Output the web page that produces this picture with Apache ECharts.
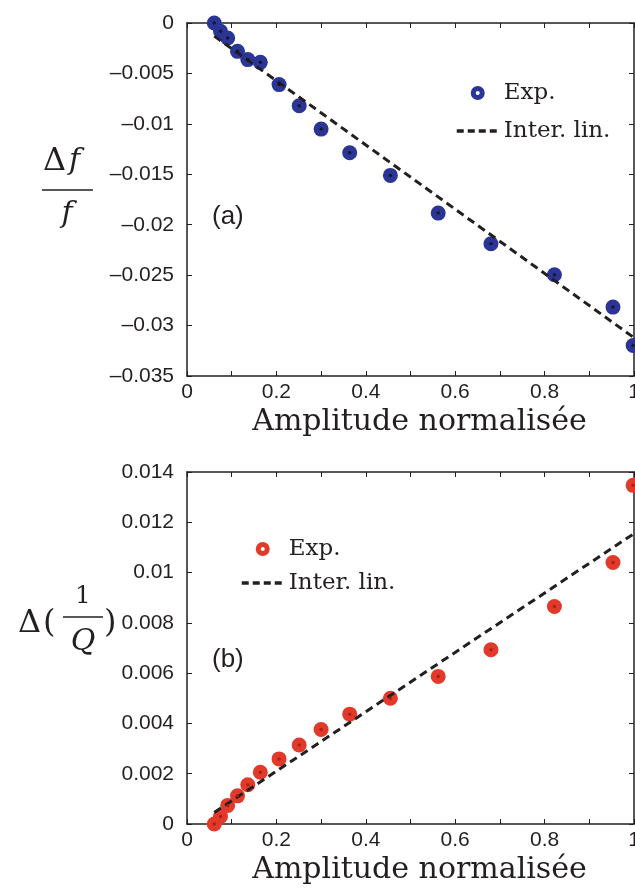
<!DOCTYPE html>
<html><head><meta charset="utf-8">
<script src="https://cdn.jsdelivr.net/npm/echarts@6/dist/echarts.min.js"></script>
<style>html,body{margin:0;padding:0;background:#fff}#c{width:635px;height:890px}</style>
</head><body><div id="c"></div>
<script>
// ---- data ----
const amplitude = [0.061, 0.075, 0.091, 0.113, 0.136, 0.164, 0.206, 0.251, 0.300, 0.364, 0.455, 0.562, 0.680, 0.822, 0.953, 0.998];
const deltaF = [0, -0.00082, -0.00149, -0.00281, -0.00363, -0.0039, -0.00611, -0.0082, -0.01052, -0.01286, -0.01511, -0.01885, -0.02189, -0.02496, -0.02817, -0.03197];
const deltaInvQ = [0, 0.0003, 0.00074, 0.00112, 0.00156, 0.00206, 0.00259, 0.00314, 0.00376, 0.00437, 0.005, 0.00587, 0.00693, 0.00865, 0.0104, 0.01347];
const fitAmplitude = [0.061, 1.0];
const fitDeltaF = [-0.0013, -0.0312];
const fitDeltaInvQ = [0.00046, 0.01155];
const xTickLabels = ['0', '0.2', '0.4', '0.6', '0.8', '1'];
const yTopTickLabels = ['0', '\u20130.005', '\u20130.01', '\u20130.015', '\u20130.02', '\u20130.025', '\u20130.03', '\u20130.035'];
const yBottomTickLabels = ['0', '0.002', '0.004', '0.006', '0.008', '0.01', '0.012', '0.014'];
const legendNames = ['Exp.', 'Inter. lin.'];
const xTitle = 'Amplitude normalis\u00e9e';

// ---- styling ----
const BLUE = '#2b3595', RED = '#e23a2a', INK = '#231f20';
const SANS = 'Liberation Sans', SERIF = 'DejaVu Serif';
const pairs = (xs, ys) => xs.map((x, i) => [x, ys[i]]);

function xAxes(g) {
  const base = {gridIndex: g, type: 'value', min: 0, max: 1, interval: 0.1,
    axisLine: {show: true, onZero: false, lineStyle: {color: INK, width: 1.5}},
    axisTick: {show: true, inside: true, length: 5, lineStyle: {color: INK, width: 1}},
    splitLine: {show: false}};
  return [
    Object.assign({}, base, {position: 'bottom',
      axisLabel: {margin: 6, color: INK, fontFamily: SANS, fontSize: 21, showMaxLabel: true,
        formatter: v => { const k = Math.round(v * 10); return k % 2 === 0 ? xTickLabels[k / 2] : ''; }},
      name: xTitle, nameLocation: 'middle', nameGap: 31,
      nameTextStyle: {fontFamily: SERIF, fontSize: 30, color: INK, padding: [0, 0, 0, 18]}}),
    Object.assign({}, base, {position: 'top', axisLabel: {show: false}})
  ];
}
function yAxes(g, min, max, step, labels) {
  const base = {gridIndex: g, type: 'value', min: min, max: max, interval: step,
    axisLine: {show: true, onZero: false, lineStyle: {color: INK, width: 1.5}},
    axisTick: {show: true, inside: true, length: 5, lineStyle: {color: INK, width: 1}},
    splitLine: {show: false}};
  return [
    Object.assign({}, base, {position: 'left',
      axisLabel: {margin: 13, color: INK, fontFamily: SANS, fontSize: 21,
        formatter: v => labels[Math.round(Math.abs(v) / step)]}}),
    Object.assign({}, base, {position: 'right', axisLabel: {show: false}})
  ];
}
function seriesFor(g, ys, fitYs, color, dotColor) {
  return [
    {type: 'scatter', name: legendNames[0], xAxisIndex: 2 * g, yAxisIndex: 2 * g,
      data: pairs(amplitude, ys), symbol: 'circle', symbolSize: 15, clip: false,
      itemStyle: {color: color, opacity: 1}, z: 2, animation: false},
    {type: 'line', name: legendNames[1], xAxisIndex: 2 * g, yAxisIndex: 2 * g,
      data: pairs(fitAmplitude, fitYs), symbol: 'none', showSymbol: false,
      lineStyle: {color: INK, width: 3, type: [8, 5]}, itemStyle: {color: INK},
      z: 3, animation: false},
    {type: 'scatter', name: 'centre' + g, xAxisIndex: 2 * g, yAxisIndex: 2 * g,
      data: pairs(amplitude, ys), symbol: 'circle', symbolSize: 3.5, silent: true, clip: false,
      itemStyle: {color: dotColor}, z: 4, animation: false}
  ];
}
function legendFor(left, top, gap, color) {
  return {show: true, orient: 'vertical', left: left, top: top, itemGap: gap,
    itemWidth: 42, itemHeight: 9, selectedMode: false, align: 'left',
    textStyle: {fontFamily: SERIF, fontSize: 23, color: INK, lineHeight: 24},
    data: [
      {name: legendNames[0], icon: 'circle', itemStyle: {color: '#fff', borderColor: color, borderWidth: 5}},
      {name: legendNames[1], itemStyle: {opacity: 0, color: 'rgba(0,0,0,0)', borderWidth: 0},
        lineStyle: {width: 3.5, type: [7, 4]}}
    ]};
}

const chart = echarts.init(document.getElementById('c'), null, {renderer: 'canvas'});
chart.setOption({
  backgroundColor: '#fff',
  animation: false,
  grid: [
    {left: 187, right: 1, top: 23, height: 353, containLabel: false, outerBoundsMode: 'none'},
    {left: 187, right: 1, top: 472, height: 352, containLabel: false, outerBoundsMode: 'none'}
  ],
  xAxis: [].concat(xAxes(0), xAxes(1)),
  yAxis: [].concat(yAxes(0, -0.035, 0, 0.005, yTopTickLabels), yAxes(1, 0, 0.014, 0.002, yBottomTickLabels)),
  legend: [legendFor(450, 76, 14, BLUE), legendFor(235, 532, 10, RED)],
  series: [].concat(seriesFor(0, deltaF, fitDeltaF, BLUE, '#111'), seriesFor(1, deltaInvQ, fitDeltaInvQ, RED, '#a01a10')),
  graphic: [
    {type: 'text', x: 212, y: 217, style: {text: '(a)', font: '26px "Liberation Sans"', fill: INK, textAlign: 'left', textVerticalAlign: 'middle'}},
    {type: 'text', x: 212, y: 660, style: {text: '(b)', font: '26px "Liberation Sans"', fill: INK, textAlign: 'left', textVerticalAlign: 'middle'}},
    // Δf / f
    {type: 'text', x: 43, y: 162, style: {text: '\u0394', font: '32px "DejaVu Serif"', fill: INK, textAlign: 'left', textVerticalAlign: 'middle'}},
    {type: 'text', x: 69, y: 161, style: {text: 'f', font: 'italic 30px "DejaVu Serif"', fill: INK, textAlign: 'left', textVerticalAlign: 'middle'}},
    {type: 'line', shape: {x1: 42, y1: 190, x2: 93, y2: 190}, style: {stroke: INK, lineWidth: 1.5}},
    {type: 'text', x: 67, y: 214, style: {text: 'f', font: 'italic 30px "DejaVu Serif"', fill: INK, textAlign: 'center', textVerticalAlign: 'middle'}},
    // Δ(1/Q)
    {type: 'text', x: 18, y: 624, style: {text: '\u0394', font: '32px "DejaVu Serif"', fill: INK, textAlign: 'left', textVerticalAlign: 'middle'}},
    {type: 'text', x: 43, y: 624, style: {text: '(', font: '32px "DejaVu Serif"', fill: INK, textAlign: 'left', textVerticalAlign: 'middle'}},
    {type: 'text', x: 83, y: 597, style: {text: '1', font: '24px "DejaVu Serif"', fill: INK, textAlign: 'center', textVerticalAlign: 'middle'}},
    {type: 'line', shape: {x1: 63, y1: 617, x2: 103, y2: 617}, style: {stroke: INK, lineWidth: 1.5}},
    {type: 'text', x: 83, y: 642, style: {text: 'Q', font: 'italic 30px "DejaVu Serif"', fill: INK, textAlign: 'center', textVerticalAlign: 'middle'}},
    {type: 'text', x: 104, y: 624, style: {text: ')', font: '32px "DejaVu Serif"', fill: INK, textAlign: 'left', textVerticalAlign: 'middle'}}
  ]
});
</script>
</body></html>
